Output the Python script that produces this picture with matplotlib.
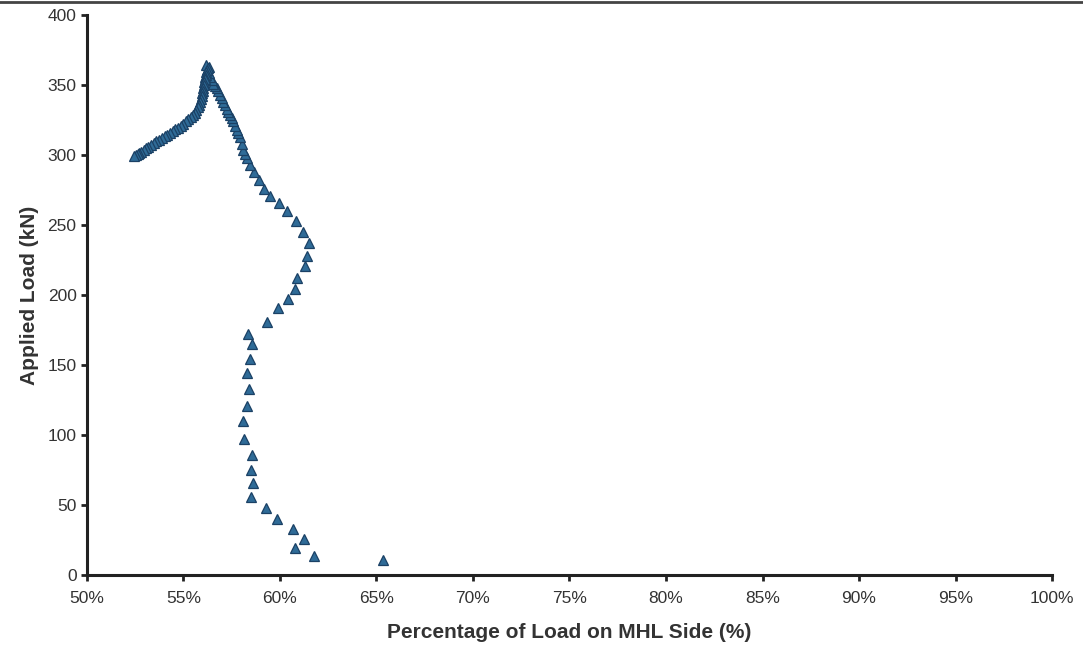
import matplotlib
matplotlib.use("Agg")
import matplotlib.pyplot as plt
from matplotlib.lines import Line2D
from matplotlib.ticker import FuncFormatter

plt.rcParams['font.family'] = ['Liberation Sans', 'DejaVu Sans']

# loading branch (load rising)
pct_up = [65.35, 61.75, 60.78, 61.24, 60.66, 59.86, 59.27, 58.48, 58.58, 58.5,
          58.53, 58.15, 58.07, 58.27, 58.38, 58.27, 58.45, 58.53, 58.36, 59.34,
          59.91, 60.41, 60.79, 60.9, 61.31, 61.38, 61.49, 61.18, 60.83, 60.38,
          59.96, 59.48, 59.15, 58.89, 58.63, 58.46, 58.29, 58.2, 58.11, 58.03,
          57.94, 57.85, 57.77, 57.68, 57.59, 57.5, 57.42, 57.33, 57.25, 57.16,
          57.07, 56.98, 56.9, 56.8, 56.73, 56.64, 56.55, 56.46, 56.38, 56.3,
          56.21, 56.18]
load_up = [10.5, 13.6, 19.5, 26, 33, 40, 48, 56, 66, 75,
           86, 97.5, 110, 121, 133, 144, 154, 165, 172, 181,
           191, 197, 204, 212, 221, 228, 237, 245, 253, 260,
           266, 271, 276, 282, 288, 293, 297.6, 300.5, 303.6, 308,
           313, 315.5, 318, 321, 324, 326.5, 328.6, 331, 333, 335.5,
           338, 340.5, 343, 345.5, 348, 349.5, 351, 353.5, 356, 358.5,
           361, 364]

# post-peak branch (load falling)
pct_down = [56.3, 56.25, 56.2, 56.18, 56.15, 56.12, 56.1, 56.07, 56.05, 56.02,
            56.0, 55.97, 55.94, 55.9, 55.86, 55.8, 55.74, 55.66, 55.58, 55.48,
            55.38, 55.26, 55.14, 55.0, 54.86, 54.72, 54.58, 54.44, 54.3, 54.16,
            54.02, 53.88, 53.74, 53.6, 53.46, 53.32, 53.18, 53.05, 52.93, 52.82,
            52.72, 52.62, 52.52, 52.45]
load_down = [363, 362, 360.5, 359, 357.5, 356, 354, 352, 350, 348,
             346, 344, 342, 340, 338, 336, 334, 332, 330, 328.5,
             327, 325.5, 324, 322.5, 321, 319.5, 318.3, 317, 315.8, 314.6,
             313.4, 312.2, 311, 309.8, 308.6, 307.3, 306, 304.8, 303.6, 302.5,
             301.5, 300.6, 299.8, 299.2]

fig = plt.figure(figsize=(10.83, 6.45), dpi=100)
ax = fig.add_axes([0.0803, 0.1085, 0.8911, 0.8682])

ax.plot(pct_up + pct_down, load_up + load_down, linestyle='none', marker='^',
        markersize=7.5, markerfacecolor='#2f6b97', markeredgecolor='#1b4165',
        markeredgewidth=0.9)

ax.set_xlim(50, 100)
ax.set_ylim(0, 400)
ax.set_xticks(range(50, 101, 5))
ax.set_yticks(range(0, 401, 50))
ax.xaxis.set_major_formatter(FuncFormatter(lambda v, p: '%d%%' % v))

for s in ['top', 'right']:
    ax.spines[s].set_visible(False)
for s in ['left', 'bottom']:
    ax.spines[s].set_linewidth(2.2)
    ax.spines[s].set_color('#222222')

ax.tick_params(direction='out', length=4.5, width=2, color='#222222',
               labelsize=12.5, labelcolor='#333333')
ax.tick_params(axis='x', pad=7)
ax.tick_params(axis='y', pad=3)

ax.set_xlabel('Percentage of Load on MHL Side (%)', fontsize=15,
              fontweight='bold', color='#333333', labelpad=12)
ax.set_ylabel('Applied Load (kN)', fontsize=15, fontweight='bold',
              color='#333333', labelpad=6)

# scan border at the top
fig.add_artist(Line2D([0, 1], [0.997, 0.997], color='#444444', linewidth=2,
                      transform=fig.transFigure))

fig.savefig('out.png', dpi=100)
